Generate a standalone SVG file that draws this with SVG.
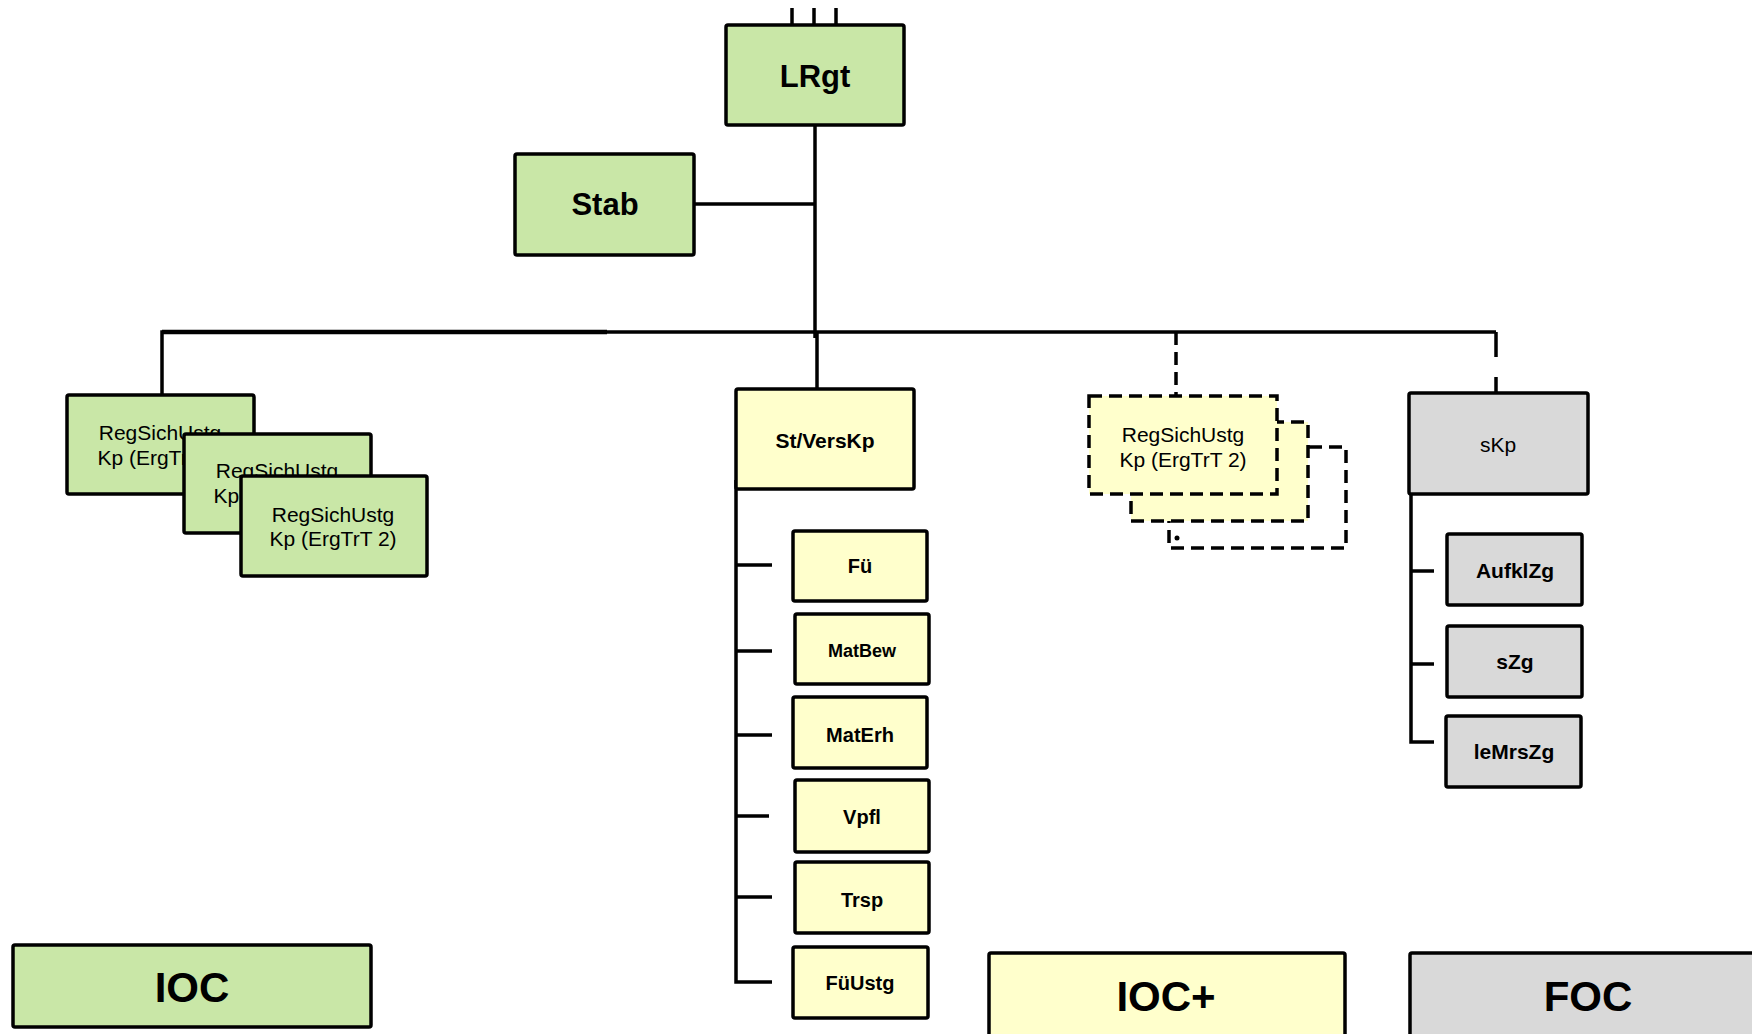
<svg xmlns="http://www.w3.org/2000/svg" width="1752" height="1034" viewBox="0 0 1752 1034">
<style>
text{font-family:"Liberation Sans",Arial,sans-serif;text-anchor:middle;fill:#000}
.b{font-weight:bold}
.g{fill:#c9e7a7;stroke:#000;stroke-width:3.5}
.y{fill:#ffffcc;stroke:#000;stroke-width:3.5}
.s{fill:#d9d9d9;stroke:#000;stroke-width:3.5}
.d{stroke-dasharray:13 7}
.ln{fill:none;stroke:#000;stroke-width:3.5}
</style>
<rect width="1752" height="1034" fill="#fff"/>
<g id="connectors" class="ln">
  <path d="M792 8V25M814 8V25M836 8V25"/>
  <path d="M815 125V338"/>
  <path d="M694 204H815"/>
  <path d="M162 395V332H1496"/>
  <path d="M162 332H607" stroke-width="4.5"/>
  <path d="M817 332V389"/>
  <path d="M1176 332V396" class="d"/>
  <path d="M1496 332V393" stroke-dasharray="25 20"/>
  <path d="M736 480V982H772M736 565H772M736 651H772M736 735H772M736 816H769M736 897H772"/>
  <path d="M1411 494V742H1434M1411 571H1434M1411 664H1434"/>
</g>
<g id="node-lrgt"><rect class="g" x="726" y="25" width="178" height="100" rx="2"/><text class="b" x="815" y="87" font-size="31">LRgt</text></g>
<g id="node-stab"><rect class="g" x="515" y="154" width="179" height="101" rx="2"/><text class="b" x="605" y="215" font-size="31">Stab</text></g>
<g id="node-regsich-1"><rect class="g" x="67" y="395" width="187" height="99" rx="2"/><text x="160" y="440" font-size="21">RegSichUstg</text><text x="161" y="465" font-size="21">Kp (ErgTrT 2)</text></g>
<g id="node-regsich-2"><rect class="g" x="184" y="434" width="187" height="99" rx="2"/><text x="277" y="478" font-size="21">RegSichUstg</text><text x="277" y="503" font-size="21">Kp (ErgTrT 2)</text></g>
<g id="node-regsich-3"><rect class="g" x="241" y="476" width="186" height="100" rx="2"/><text x="333" y="522" font-size="21">RegSichUstg</text><text x="333" y="546" font-size="21">Kp (ErgTrT 2)</text></g>
<g id="node-stverskp"><rect class="y" x="736" y="389" width="178" height="100" rx="2"/><text class="b" x="825" y="448" font-size="21">St/VersKp</text></g>
<g id="node-fu"><rect class="y" x="793" y="531" width="134" height="70" rx="2"/><text class="b" x="860" y="573" font-size="20">Fü</text></g>
<g id="node-matbew"><rect class="y" x="795" y="614" width="134" height="70" rx="2"/><text class="b" x="862" y="657" font-size="18">MatBew</text></g>
<g id="node-materh"><rect class="y" x="793" y="697" width="134" height="71" rx="2"/><text class="b" x="860" y="742" font-size="20">MatErh</text></g>
<g id="node-vpfl"><rect class="y" x="795" y="780" width="134" height="72" rx="2"/><text class="b" x="862" y="824" font-size="20">Vpfl</text></g>
<g id="node-trsp"><rect class="y" x="795" y="862" width="134" height="71" rx="2"/><text class="b" x="862" y="907" font-size="20">Trsp</text></g>
<g id="node-fuustg"><rect class="y" x="793" y="947" width="135" height="71" rx="2"/><text class="b" x="860" y="990" font-size="20">FüUstg</text></g>
<g id="node-regsich-dashed">
  <rect class="ln d" x="1169" y="447" width="177" height="101" fill="#fff"/>
  <circle cx="1177" cy="538" r="2.5" fill="#000"/>
  <rect class="y d" x="1131" y="422" width="177" height="99"/>
  <rect class="y d" x="1089" y="396" width="188" height="98"/>
  <text x="1183" y="442" font-size="21">RegSichUstg</text><text x="1183" y="467" font-size="21">Kp (ErgTrT 2)</text>
</g>
<g id="node-skp"><rect class="s" x="1409" y="393" width="179" height="101" rx="2"/><text x="1498" y="452" font-size="21">sKp</text></g>
<g id="node-aufklzg"><rect class="s" x="1447" y="534" width="135" height="71" rx="2"/><text class="b" x="1515" y="578" font-size="21">AufklZg</text></g>
<g id="node-szg"><rect class="s" x="1447" y="626" width="135" height="71" rx="2"/><text class="b" x="1515" y="669" font-size="21">sZg</text></g>
<g id="node-lemrszg"><rect class="s" x="1446" y="716" width="135" height="71" rx="2"/><text class="b" x="1514" y="759" font-size="21">leMrsZg</text></g>
<g id="node-ioc"><rect class="g" x="13" y="945" width="358" height="82" rx="2"/><text class="b" x="192" y="1002" font-size="42">IOC</text></g>
<g id="node-iocplus"><rect class="y" x="989" y="953" width="356" height="100" rx="2"/><text class="b" x="1166" y="1011" font-size="42">IOC+</text></g>
<g id="node-foc"><rect class="s" x="1410" y="953" width="360" height="100" rx="2"/><text class="b" x="1588" y="1011" font-size="42">FOC</text></g>
</svg>
